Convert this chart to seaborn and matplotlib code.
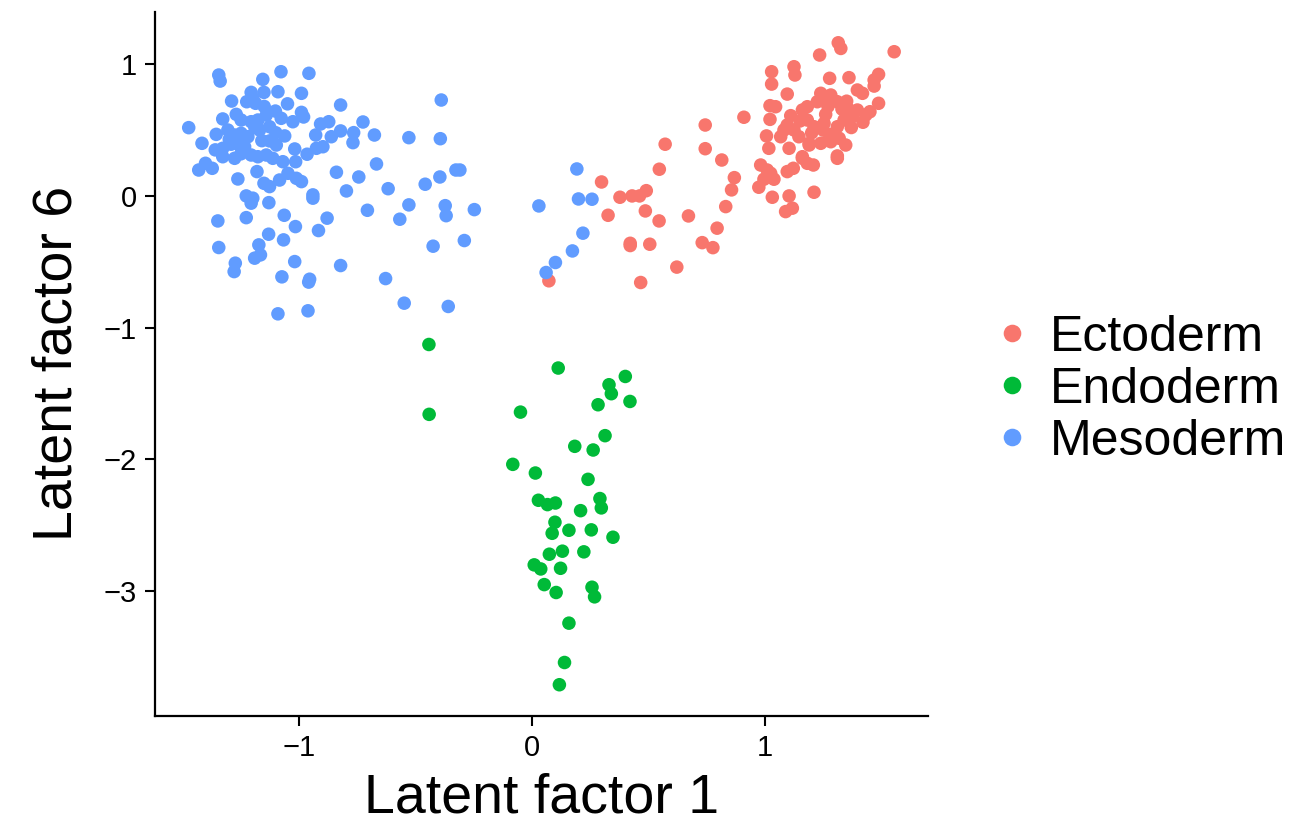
import numpy as np
import pandas as pd
import matplotlib
matplotlib.use("Agg")
import matplotlib.pyplot as plt
import seaborn as sns

# latent factor coordinates, one pair of lists per germ layer
ecto_x = [0.072, 0.298, 0.377, 0.429, 0.461, 0.49, 0.326, 0.486, 0.545, 0.546, 0.571, 0.421, 0.421,
          0.505, 0.621, 0.466, 0.671, 0.743, 0.743, 0.909, 0.814, 0.868, 0.856, 0.831, 0.794, 0.73,
          0.776, 0.981, 1.009, 1.024, 1.038, 0.995, 0.973, 1.095, 1.121, 1.16, 1.181, 1.207, 1.31,
          1.031, 1.103, 1.21, 1.117, 1.088, 1.016, 1.103, 1.189, 1.239, 1.282, 1.314, 1.325, 1.554,
          1.234, 1.028, 1.124, 1.128, 1.277, 1.36, 1.487, 1.468, 1.468, 1.028, 1.095, 1.396, 1.418,
          1.487, 1.239, 1.282, 1.021, 1.045, 1.021, 1.181, 1.224, 1.267, 1.31, 1.354, 1.396, 1.432,
          1.16, 1.095, 1.081, 1.124, 1.181, 1.21, 1.253, 1.31, 1.339, 1.375, 1.006, 1.189, 1.274,
          1.318, 1.346, 1.067, 1.145, 1.16, 1.31, 1.2, 1.26, 1.33, 1.15, 1.29, 1.37, 1.42, 1.45,
          1.25, 1.11, 1.35, 1.27]
ecto_y = [-0.645, 0.106, -0.01, 0.0, 0.0, 0.04, -0.147, -0.114, -0.19, 0.203, 0.393, -0.36, -0.377,
          -0.367, -0.541, -0.658, -0.152, 0.539, 0.359, 0.598, 0.273, 0.139, 0.046, -0.081, -0.245, -0.355,
          -0.393, 0.235, 0.197, 0.172, 0.127, 0.127, 0.066, 0.185, 0.21, 0.286, 0.248, 0.235, 0.286,
          -0.01, 0.0, 0.028, -0.093, -0.119, 0.362, 0.362, 0.40, 0.40, 0.412, 1.164, 1.121, 1.096,
          1.071, 0.944, 0.982, 0.919, 0.894, 0.899, 0.924, 0.881, 0.835, 0.85, 0.774, 0.805, 0.78,
          0.704, 0.78, 0.767, 0.686, 0.678, 0.582, 0.678, 0.716, 0.729, 0.716, 0.666, 0.653, 0.615,
          0.653, 0.539, 0.501, 0.501, 0.577, 0.526, 0.552, 0.526, 0.577, 0.602, 0.456, 0.387, 0.425,
          0.438, 0.387, 0.45, 0.45, 0.298, 0.304, 0.48, 0.62, 0.66, 0.57, 0.47, 0.52, 0.56, 0.64,
          0.50, 0.61, 0.72, 0.68]

endo_x = [-0.443, 0.112, 0.40, 0.33, 0.34, 0.42, 0.283, -0.442, -0.05, 0.313, 0.183, 0.262, -0.083,
          0.014, 0.24, 0.027, 0.066, 0.10, 0.291, 0.297, 0.208, 0.098, 0.086, 0.158, 0.254, 0.347,
          0.074, 0.13, 0.222, 0.009, 0.037, 0.122, 0.052, 0.103, 0.257, 0.268, 0.158, 0.139, 0.117]
endo_y = [-1.129, -1.308, -1.372, -1.435, -1.503, -1.562, -1.587, -1.66, -1.643, -1.822, -1.903, -1.931, -2.04,
          -2.106, -2.154, -2.313, -2.346, -2.334, -2.30, -2.371, -2.392, -2.48, -2.564, -2.541, -2.538, -2.594,
          -2.723, -2.70, -2.705, -2.804, -2.835, -2.83, -2.954, -3.014, -2.974, -3.047, -3.247, -3.546, -3.715]

meso_x = [-1.345, -1.339, -1.078, -0.958, -1.156, -1.206, -1.151, -1.091, -0.99, -1.29, -1.225, -1.199,
          -1.187, -0.822, -1.27, -1.102, -1.141, -0.99, -0.981, -1.077, -1.027, -1.474, -1.328, -1.249,
          -1.206, -1.177, -0.908, -0.873, -0.822, -1.356, -1.306, -1.277, -1.249, -1.17, -1.127, -1.062,
          -0.929, -0.862, -1.417, -1.328, -1.292, -1.256, -1.234, -1.127, -1.098, -1.019, -0.966, -0.926,
          -0.898, -1.328, -1.277, -1.206, -1.177, -1.141, -1.113, -1.07, -1.015, -1.431, -1.402, -1.373,
          -1.263, -1.181, -1.151, -1.127, -1.084, -1.048, -1.012, -0.99, -0.84, -0.941, -0.941, -0.797,
          -1.227, -1.199, -1.206, -1.13, -1.349, -1.227, -1.064, -1.016, -0.88, -0.917, -1.131, -1.067,
          -1.345, -1.173, -1.166, -1.191, -1.274, -1.279, -1.019, -0.822, -1.074, -0.955, -0.959, -1.091,
          -0.962, -0.39, -0.726, -0.766, -0.769, -0.677, -0.529, -0.394, -0.668, -0.744, -0.327, -0.31,
          -0.396, -0.459, -0.618, -0.707, -0.529, -0.568, -0.373, -0.369, -0.248, -0.425, -0.291, -0.629,
          -0.549, -0.36, 0.192, 0.029, 0.199, 0.257, 0.218, 0.173, 0.10, 0.06, -1.22, -1.16, -1.30,
          -1.19, -1.10, -1.25, -1.36, -1.15, -1.05]
meso_y = [0.919, 0.873, 0.944, 0.932, 0.886, 0.787, 0.787, 0.792, 0.78, 0.721, 0.716, 0.742,
          0.704, 0.691, 0.62, 0.645, 0.615, 0.635, 0.60, 0.59, 0.564, 0.519, 0.585, 0.577,
          0.564, 0.577, 0.547, 0.564, 0.494, 0.468, 0.501, 0.463, 0.476, 0.501, 0.526, 0.456,
          0.463, 0.45, 0.40, 0.362, 0.393, 0.387, 0.374, 0.418, 0.387, 0.357, 0.317, 0.362,
          0.374, 0.298, 0.286, 0.311, 0.298, 0.311, 0.286, 0.26, 0.26, 0.197, 0.248, 0.21,
          0.129, 0.185, 0.096, 0.071, 0.121, 0.172, 0.134, 0.109, 0.18, 0.008, -0.017, 0.038,
          0.0, -0.017, -0.055, -0.051, -0.19, -0.165, -0.147, -0.233, -0.169, -0.263, -0.291, -0.334,
          -0.392, -0.372, -0.448, -0.473, -0.511, -0.575, -0.499, -0.529, -0.615, -0.633, -0.655, -0.896,
          -0.873, 0.729, 0.562, 0.481, 0.405, 0.463, 0.443, 0.435, 0.243, 0.144, 0.197, 0.197,
          0.144, 0.089, 0.055, -0.109, -0.068, -0.177, -0.074, -0.15, -0.104, -0.382, -0.339, -0.628,
          -0.815, -0.84, 0.205, -0.076, -0.023, -0.025, -0.283, -0.418, -0.506, -0.582, 0.45, 0.42, 0.43,
          0.52, 0.48, 0.32, 0.35, 0.68, 0.70]

layers = ["Ectoderm", "Endoderm", "Mesoderm"]
colors = ["#F8766D", "#00BA38", "#619CFF"]

df = pd.concat([
    pd.DataFrame({"f1": ecto_x, "f6": ecto_y, "layer": "Ectoderm"}),
    pd.DataFrame({"f1": endo_x, "f6": endo_y, "layer": "Endoderm"}),
    pd.DataFrame({"f1": meso_x, "f6": meso_y, "layer": "Mesoderm"}),
], ignore_index=True)

sns.set_theme(style="ticks")
plt.rcParams["font.family"] = ["Liberation Sans", "DejaVu Sans"]
plt.rcParams["text.color"] = "black"
plt.rcParams["axes.labelcolor"] = "black"

fig = plt.figure(figsize=(13.11, 8.38), dpi=100)
ax = fig.add_axes([0.118, 0.146, 0.590, 0.840])

sns.scatterplot(data=df, x="f1", y="f6", hue="layer", hue_order=layers,
                palette=dict(zip(layers, colors)), s=95, linewidth=0, ax=ax)

ax.set_xlim(-1.62, 1.70)
ax.set_ylim(-3.95, 1.40)
ax.set_xticks([-1, 0, 1])
ax.set_yticks([-3, -2, -1, 0, 1])
ax.set_xlabel("Latent factor 1", fontsize=40, labelpad=8)
ax.set_ylabel("Latent factor 6", fontsize=40, labelpad=14)
ax.tick_params(labelsize=21, length=7, width=1.5, colors="black", pad=6)
for side in ["top", "right"]:
    ax.spines[side].set_visible(False)
for side in ["left", "bottom"]:
    ax.spines[side].set_linewidth(1.6)
    ax.spines[side].set_color("black")

handles, labels = ax.get_legend_handles_labels()
ax.get_legend().remove()
fig.legend(handles, labels, loc="center left", bbox_to_anchor=(0.757, 0.535),
           frameon=False, fontsize=36, markerscale=1.3, handlelength=0.8,
           handletextpad=0.35, labelspacing=0.12, borderpad=0, borderaxespad=0)

fig.savefig("out.png", dpi=100)
